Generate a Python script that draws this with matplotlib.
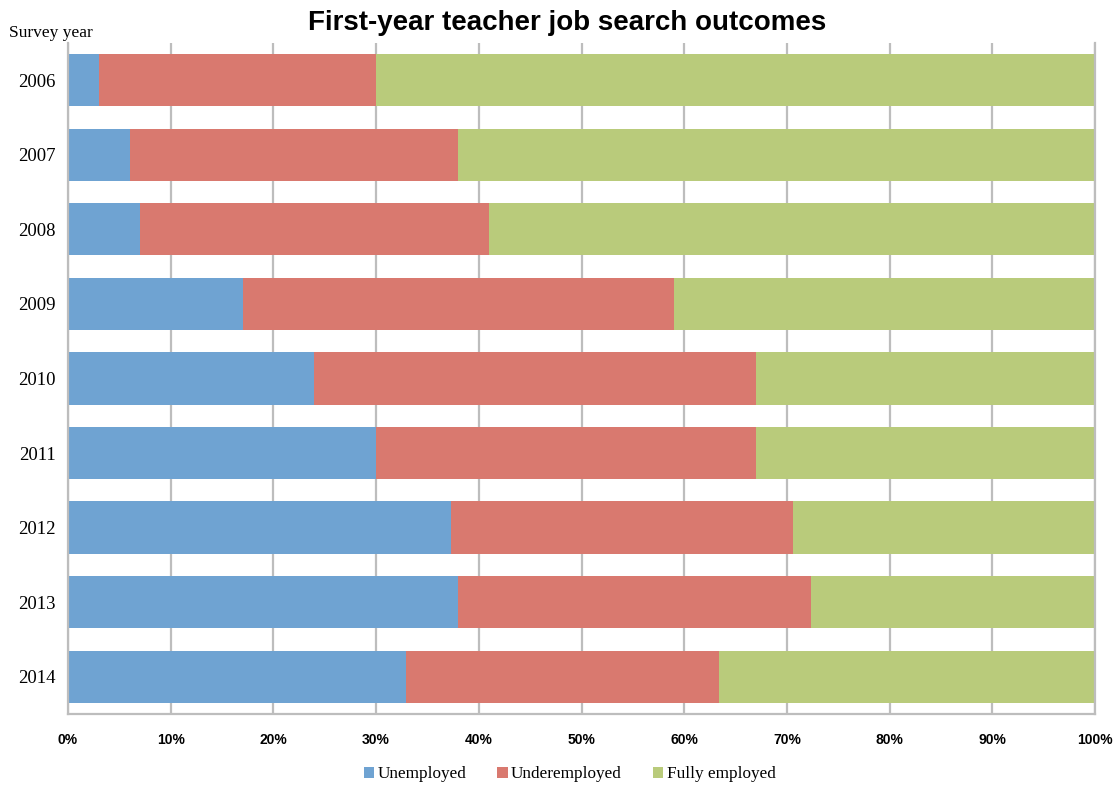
import matplotlib
matplotlib.use("Agg")
from matplotlib import pyplot as plt
import numpy as np

# data (percent of first-year teachers)
years = ["2006", "2007", "2008", "2009", "2010", "2011", "2012", "2013", "2014"]
unemployed = [3.0, 6.0, 7.0, 17.0, 24.0, 30.0, 37.3, 38.0, 32.9]
underemployed = [27.0, 32.0, 34.0, 42.0, 43.0, 37.0, 33.3, 34.3, 30.5]
fully_employed = [70.0, 62.0, 59.0, 41.0, 33.0, 33.0, 29.4, 27.7, 36.6]
series_names = ["Unemployed", "Underemployed", "Fully employed"]
colors = ["#6fa3d2", "#d9796f", "#b9cb7b"]

fig = plt.figure(figsize=(11.17, 7.87), dpi=100)
ax = fig.add_axes([0.0609, 0.0928, 0.9194, 0.8526])

y = np.arange(len(years))
left = np.zeros(len(years))
for vals, name, col in zip([unemployed, underemployed, fully_employed], series_names, colors):
    ax.barh(y, vals, left=left, height=0.7, color=col, label=name, zorder=2)
    left = left + np.array(vals)

ax.set_xlim(0, 100)
ax.set_ylim(len(years) - 0.5, -0.5)
ax.set_xticks(np.arange(0, 101, 10))
ax.set_xticklabels([f"{v}%" for v in range(0, 101, 10)],
                   fontsize=10, fontweight="bold", family="Liberation Sans")
ax.set_yticks(y)
ax.set_yticklabels(years, fontsize=13.5, family="Liberation Serif")
ax.tick_params(axis="both", length=0)
ax.tick_params(axis="x", pad=14)
ax.tick_params(axis="y", pad=9)

ax.xaxis.grid(True, color="#bdbdbd", linewidth=1.6, zorder=0)
ax.set_axisbelow(True)
ax.spines["top"].set_visible(False)
for s in ["left", "bottom", "right"]:
    ax.spines[s].set_color("#bdbdbd")
    ax.spines[s].set_linewidth(1.6)

fig.text(0.508, 0.971, "First-year teacher job search outcomes", ha="center", va="center",
         fontsize=20, fontweight="bold", family="Liberation Sans")
fig.text(0.008, 0.958, "Survey year", ha="left", va="center",
         fontsize=12.5, family="Liberation Serif")

fig.legend(loc="center", bbox_to_anchor=(0.51, 0.016), ncol=3, frameon=False,
           prop={"family": "Liberation Serif", "size": 12.4},
           handlelength=0.6, handleheight=0.6, handletextpad=0.2, columnspacing=1.8)

fig.savefig("out.png", dpi=100)
